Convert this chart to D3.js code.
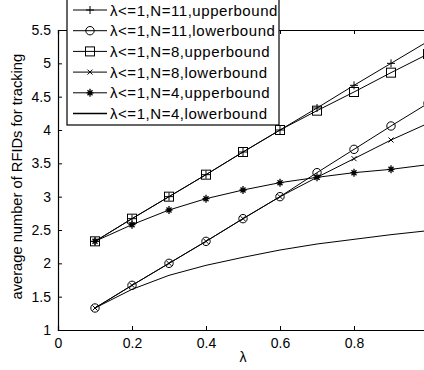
<!DOCTYPE html>
<html>
<head>
<meta charset="utf-8">
<script src="https://cdn.jsdelivr.net/npm/d3@7"></script>
<style>
body { margin: 0; background: #fff; }
svg { display: block; font-family: "Liberation Sans", Arial, sans-serif; }
</style>
</head>
<body>
<div id="chart"></div>
<script>
// lambda values
var lambdas = [0.1, 0.2, 0.3, 0.4, 0.5, 0.6, 0.7, 0.8, 0.9, 1.0];

var n11Upper = [2.33, 2.67, 3.0, 3.33, 3.67, 4.0, 4.33, 4.67, 5.0, 5.33];
var n11Lower = [1.33, 1.67, 2.0, 2.33, 2.67, 3.0, 3.36, 3.71, 4.06, 4.4];
var n8Upper = [2.33, 2.67, 3.0, 3.33, 3.67, 4.0, 4.29, 4.57, 4.86, 5.14];
var n8Lower = [1.33, 1.67, 2.0, 2.33, 2.67, 3.0, 3.29, 3.57, 3.85, 4.1];
var n4Upper = [2.33, 2.58, 2.8, 2.97, 3.1, 3.21, 3.29, 3.36, 3.41, 3.48];
var n4Lower = [1.33, 1.61, 1.82, 1.97, 2.09, 2.2, 2.29, 2.36, 2.43, 2.49];

var seriesNames = ["λ<=1,N=11,upperbound", "λ<=1,N=11,lowerbound", "λ<=1,N=8,upperbound",
                   "λ<=1,N=8,lowerbound", "λ<=1,N=4,upperbound", "λ<=1,N=4,lowerbound"];
var seriesValues = [n11Upper, n11Lower, n8Upper, n8Lower, n4Upper, n4Lower];
var seriesMarkers = ["plus", "circle", "square", "x", "star", "none"];

var xTicks = [0, 0.2, 0.4, 0.6, 0.8, 1];
var yTicks = [1, 1.5, 2, 2.5, 3, 3.5, 4, 4.5, 5, 5.5];

var W = 424, H = 370;
var margin = {top: 30, left: 58, bottom: 40};
var plotW = 370, plotH = H - margin.top - margin.bottom;

var svg = d3.select("#chart").append("svg")
    .attr("width", W).attr("height", H);

var x = d3.scaleLinear().domain([0, 1]).range([margin.left, margin.left + plotW]);
var y = d3.scaleLinear().domain([1, 5.5]).range([margin.top + plotH, margin.top]);

// axes (ticks inward, matlab style); the "1" label falls outside the window
var fmt = function(d) { return String(d); };
svg.append("g")
    .attr("transform", "translate(0," + (margin.top + plotH) + ")")
    .call(d3.axisBottom(x).tickValues(xTicks).tickSize(-4).tickPadding(8)
      .tickFormat(function(d) { return d === 1 ? "" : String(d); }));
svg.append("g")
    .attr("transform", "translate(0," + margin.top + ")")
    .call(d3.axisTop(x).tickValues(xTicks).tickSize(-4).tickFormat(""));
svg.append("g")
    .attr("transform", "translate(" + margin.left + ",0)")
    .call(d3.axisLeft(y).tickValues(yTicks).tickSize(-4).tickPadding(7).tickFormat(fmt));
svg.append("g")
    .attr("transform", "translate(" + (margin.left + plotW) + ",0)")
    .call(d3.axisRight(y).tickValues(yTicks).tickSize(-4).tickFormat(""));

svg.selectAll(".domain").attr("stroke", "#000").attr("stroke-width", 1.2);
svg.selectAll(".tick line").attr("stroke", "#000");
svg.selectAll(".tick text").attr("font-size", 14).attr("fill", "#000")
    .attr("font-family", "'Liberation Sans', Arial, sans-serif");

// labels
svg.append("text")
    .attr("x", x(0.5)).attr("y", 362)
    .attr("text-anchor", "middle").attr("font-size", 14)
    .text("λ");
svg.append("text")
    .attr("transform", "translate(22," + y(3.3) + ") rotate(-90)")
    .attr("text-anchor", "middle").attr("font-size", 14.7)
    .text("average number of RFIDs for tracking");

function drawMarker(g, type, cx, cy) {
  var s = g.append("g").attr("transform", "translate(" + cx + "," + cy + ")")
      .attr("stroke", "#000").attr("fill", "none").attr("stroke-width", 1);
  if (type === "plus") {
    s.append("path").attr("d", "M-4,0H4M0,-4V4");
  } else if (type === "circle") {
    s.append("circle").attr("r", 4.2);
  } else if (type === "square") {
    s.append("rect").attr("x", -4.5).attr("y", -4.5).attr("width", 9).attr("height", 9);
  } else if (type === "x") {
    s.append("path").attr("d", "M-2.5,-2.5L2.5,2.5M-2.5,2.5L2.5,-2.5");
  } else if (type === "star") {
    s.append("path").attr("stroke-width", 1.3)
      .attr("d", "M-3.5,0H3.5M0,-4V4M-2.5,-2.5L2.5,2.5M-2.5,2.5L2.5,-2.5");
  }
}

var clip = svg.append("clipPath").attr("id", "plotclip")
  .append("rect").attr("x", margin.left).attr("y", margin.top - 6)
  .attr("width", plotW + 6).attr("height", plotH + 12);

var plot = svg.append("g").attr("clip-path", "url(#plotclip)");
var line = d3.line().x(function(d, i) { return x(lambdas[i]); }).y(function(d) { return y(d); });

seriesValues.forEach(function(vals, k) {
  plot.append("path").datum(vals)
    .attr("d", line).attr("fill", "none").attr("stroke", "#000").attr("stroke-width", 1);
  if (seriesMarkers[k] !== "none") {
    vals.forEach(function(v, i) { drawMarker(plot, seriesMarkers[k], x(lambdas[i]), y(v)); });
  }
});

// legend
var lg = svg.append("g");
var lgX = 67, lgW = 212, lgBottom = 125;
lg.append("rect").attr("x", lgX).attr("y", -5).attr("width", lgW).attr("height", lgBottom + 5)
  .attr("fill", "#fff").attr("stroke", "#000").attr("stroke-width", 1.2);
seriesNames.forEach(function(name, k) {
  var ly = 10 + k * 20.7;
  lg.append("line").attr("x1", 73).attr("x2", 107).attr("y1", ly).attr("y2", ly)
    .attr("stroke", "#000").attr("stroke-width", k === 5 ? 1.6 : 1);
  if (seriesMarkers[k] !== "none") drawMarker(lg, seriesMarkers[k], 90, ly);
  lg.append("text").attr("x", 110).attr("y", ly + 5.5).attr("font-size", 15)
    .attr("letter-spacing", 0.55).text(name);
});
</script>
</body>
</html>
